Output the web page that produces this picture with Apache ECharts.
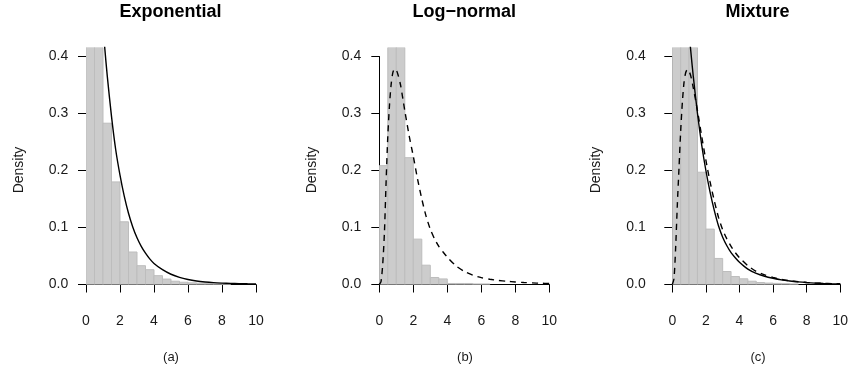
<!DOCTYPE html>
<html>
<head>
<meta charset="utf-8">
<script src="https://cdn.jsdelivr.net/npm/echarts@6/dist/echarts.min.js"></script>
<style>
html,body{margin:0;padding:0;background:#fff;}
#chart{width:851px;height:371px;}
</style>
</head>
<body>
<div id="chart"></div>
<script>
// ---------------- data ----------------
const panelTitles = ["Exponential", "Log\u2212normal", "Mixture"];
const panelLabels = ["(a)", "(b)", "(c)"];
const yAxisName = "Density";
const xTicks = [0, 2, 4, 6, 8, 10];
const yTicks = [0.0, 0.1, 0.2, 0.3, 0.4];
const binWidth = 0.5;
const binLeft = [0, 0.5, 1, 1.5, 2, 2.5, 3, 3.5, 4, 4.5, 5, 5.5, 6, 6.5, 7, 7.5, 8];

// histogram densities (first bins run off the top of the plot)
const expHist = [0.75, 0.52, 0.283, 0.18, 0.11, 0.057, 0.033, 0.026, 0.0155, 0.0095, 0.0058, 0.004, 0.0029, 0.0023, 0.0018, 0.0012, 0.001];
const lnHist  = [0.2085, 0.62, 0.80, 0.2225, 0.0796, 0.0339, 0.0123, 0.0098, 0.0018, 0.0018, 0.0018, 0.001, 0.001, 0, 0, 0, 0];
const mixHist = [0.42, 0.62, 0.55, 0.197, 0.0972, 0.0457, 0.0228, 0.014, 0.010, 0.0058, 0.0035, 0.0025, 0.002, 0.0015, 0.001, 0, 0];

// fitted density curves (x, density)
const expCurveX = [1.0, 1.1, 1.25, 1.5, 1.75, 2.0, 2.25, 2.5, 2.75, 3.0, 3.25, 3.5, 3.75, 4.0, 4.5, 5.0, 5.5, 6.0, 6.5, 7.0, 7.5, 8.0, 8.5, 9.0, 9.5, 10.0];
const expCurveY = [0.455, 0.416, 0.366, 0.295, 0.236, 0.192, 0.155, 0.125, 0.101, 0.082, 0.067, 0.055, 0.045, 0.037, 0.026, 0.018, 0.0125, 0.0088, 0.0062, 0.0045, 0.0033, 0.0025, 0.0019, 0.0015, 0.0012, 0.001];

const lnCurveX = [0, 0.1, 0.2, 0.3, 0.4, 0.5, 0.6, 0.7, 0.8, 0.9, 1.0, 1.1, 1.25, 1.5, 1.75, 2.0, 2.25, 2.5, 2.75, 3.0, 3.25, 3.5, 3.75, 4.0, 4.5, 5.0, 5.5, 6.0, 6.5, 7.0, 7.5, 8.0, 8.5, 9.0, 9.5, 10.0];
const lnCurveY = [0, 0.005, 0.035, 0.09, 0.18, 0.26, 0.315, 0.352, 0.372, 0.378, 0.376, 0.368, 0.35, 0.305, 0.262, 0.225, 0.185, 0.15, 0.12, 0.097, 0.08, 0.067, 0.057, 0.048, 0.033, 0.023, 0.0165, 0.012, 0.0092, 0.0072, 0.0057, 0.0045, 0.0035, 0.0028, 0.0022, 0.0017];

const mixSolidX = [1.0, 1.08, 1.25, 1.5, 1.75, 2.0, 2.25, 2.5, 2.75, 3.0, 3.25, 3.5, 3.75, 4.0, 4.5, 5.0, 5.5, 6.0, 6.5, 7.0, 7.5, 8.0, 8.5, 9.0, 9.5, 10.0];
const mixSolidY = [0.45, 0.416, 0.365, 0.3, 0.245, 0.2, 0.162, 0.13, 0.103, 0.083, 0.068, 0.056, 0.047, 0.039, 0.027, 0.0195, 0.0145, 0.011, 0.0082, 0.0062, 0.0046, 0.0034, 0.0025, 0.0018, 0.0013, 0.001];

const mixDashX = [0, 0.1, 0.2, 0.3, 0.4, 0.5, 0.6, 0.7, 0.8, 0.9, 1.0, 1.1, 1.25, 1.5, 1.75, 2.0, 2.25, 2.5, 2.75, 3.0, 3.25, 3.5, 3.75, 4.0, 4.5, 5.0, 5.5, 6.0, 6.5, 7.0, 7.5, 8.0, 8.5, 9.0, 9.5, 10.0];
const mixDashY = [0, 0.01, 0.065, 0.14, 0.205, 0.27, 0.32, 0.355, 0.372, 0.377, 0.374, 0.366, 0.345, 0.305, 0.26, 0.218, 0.18, 0.147, 0.118, 0.096, 0.08, 0.067, 0.056, 0.047, 0.033, 0.023, 0.017, 0.0125, 0.0088, 0.0065, 0.0049, 0.0036, 0.0027, 0.002, 0.0016, 0.0014];

// ---------------- layout ----------------
const FONT = "Liberation Sans, Arial, Helvetica, sans-serif";
const panels = [
  {x0: 86,    x10: 256,   yAxisX: 79.3,  titleX: 170.5, subX: 171},
  {x0: 379.3, x10: 549.3, yAxisX: 372.3, titleX: 464.2, subX: 465},
  {x0: 672.3, x10: 842.3, yAxisX: 656.7, titleX: 757.5, subX: 758}
];
const yZero = 284.5, yFour = 56.5;
const pxPerUnitY = (yZero - yFour) / 0.4;
const yTopVal = 0.416;
const gridTop = yZero - yTopVal * pxPerUnitY;

const hists = [expHist, lnHist, mixHist];
const curves = [
  [{x: expCurveX, y: expCurveY, dash: false}],
  [{x: lnCurveX, y: lnCurveY, dash: true}],
  [{x: mixSolidX, y: mixSolidY, dash: false}, {x: mixDashX, y: mixDashY, dash: true}]
];

const grid = [], xAxis = [], yAxis = [], series = [], graphic = [];
panels.forEach((p, i) => {
  const w = p.x10 - p.x0;
  // data grid
  grid.push({left: p.x0, top: gridTop, width: w, height: yZero - gridTop, containLabel: false});
  const dg = grid.length - 1;
  xAxis.push({
    type: 'value', gridIndex: dg, min: 0, max: 10, interval: 2, offset: 9,
    axisLine: {show: true, lineStyle: {color: '#000', width: 1}},
    axisTick: {show: true, length: 8, lineStyle: {color: '#000'}},
    axisLabel: {show: true, margin: 21, color: '#1a1a1a', fontSize: 14, fontFamily: FONT},
    splitLine: {show: false}
  });
  yAxis.push({type: 'value', gridIndex: dg, min: 0, max: yTopVal, show: false, splitLine: {show: false}});
  const dIdx = xAxis.length - 1;

  // y axis grid (axis drawn only from 0 to 0.4)
  grid.push({left: p.x0, top: yFour, width: w, height: yZero - yFour, containLabel: false});
  const yg = grid.length - 1;
  xAxis.push({type: 'value', gridIndex: yg, min: 0, max: 10, show: false, splitLine: {show: false}});
  yAxis.push({
    type: 'value', gridIndex: yg, min: 0, max: 0.4, interval: 0.1, offset: p.x0 - p.yAxisX,
    axisLine: {show: true, lineStyle: {color: '#000', width: 1}},
    axisTick: {show: true, length: 8, lineStyle: {color: '#000'}},
    axisLabel: {show: true, margin: 11, color: '#1a1a1a', fontSize: 14, fontFamily: FONT,
      formatter: v => v.toFixed(1)},
    splitLine: {show: false}
  });

  // histogram
  const h = hists[i];
  series.push({
    type: 'custom', xAxisIndex: dIdx, yAxisIndex: dIdx, clip: true,
    data: binLeft.map((b, k) => [b, b + binWidth, h[k]]).filter(d => d[2] > 0),
    renderItem: (params, api) => {
      const a = api.coord([api.value(0), api.value(2)]);
      const b = api.coord([api.value(1), 0]);
      const rect = echarts.graphic.clipRectByRect(
        {x: a[0], y: a[1], width: b[0] - a[0], height: b[1] - a[1]},
        {x: params.coordSys.x, y: params.coordSys.y, width: params.coordSys.width, height: params.coordSys.height});
      if (!rect) return null;
      return {type: 'rect', shape: rect,
        style: {fill: '#cccccc', stroke: '#bdbdbd', lineWidth: 1}};
    },
    encode: {x: [0, 1], y: 2},
    silent: true
  });

  curves[i].forEach(c => {
    series.push({
      type: 'line', xAxisIndex: dIdx, yAxisIndex: dIdx, clip: true,
      data: c.x.map((x, k) => [x, c.y[k]]),
      showSymbol: false, symbol: 'none', smooth: 0.25,
      lineStyle: {color: '#000', width: 1.4, type: c.dash ? [6, 5] : 'solid'},
      silent: true, animation: false
    });
  });

  graphic.push({type: 'text', x: p.titleX, y: 12,
    style: {text: panelTitles[i], font: 'bold 18px ' + FONT, fill: '#000', textAlign: 'center', textVerticalAlign: 'middle'}});
  graphic.push({type: 'text', x: p.subX, y: 357,
    style: {text: panelLabels[i], font: '13px ' + FONT, fill: '#1a1a1a', textAlign: 'center', textVerticalAlign: 'middle'}});
  graphic.push({type: 'text', x: p.yAxisX - 60.5, y: 170, rotation: Math.PI / 2,
    style: {text: yAxisName, font: '14px ' + FONT, fill: '#1a1a1a', textAlign: 'center', textVerticalAlign: 'middle'}});
});

const chart = echarts.init(document.getElementById('chart'), null, {renderer: 'canvas'});
chart.setOption({
  animation: false,
  backgroundColor: '#fff',
  grid, xAxis, yAxis, series, graphic
});
</script>
</body>
</html>
